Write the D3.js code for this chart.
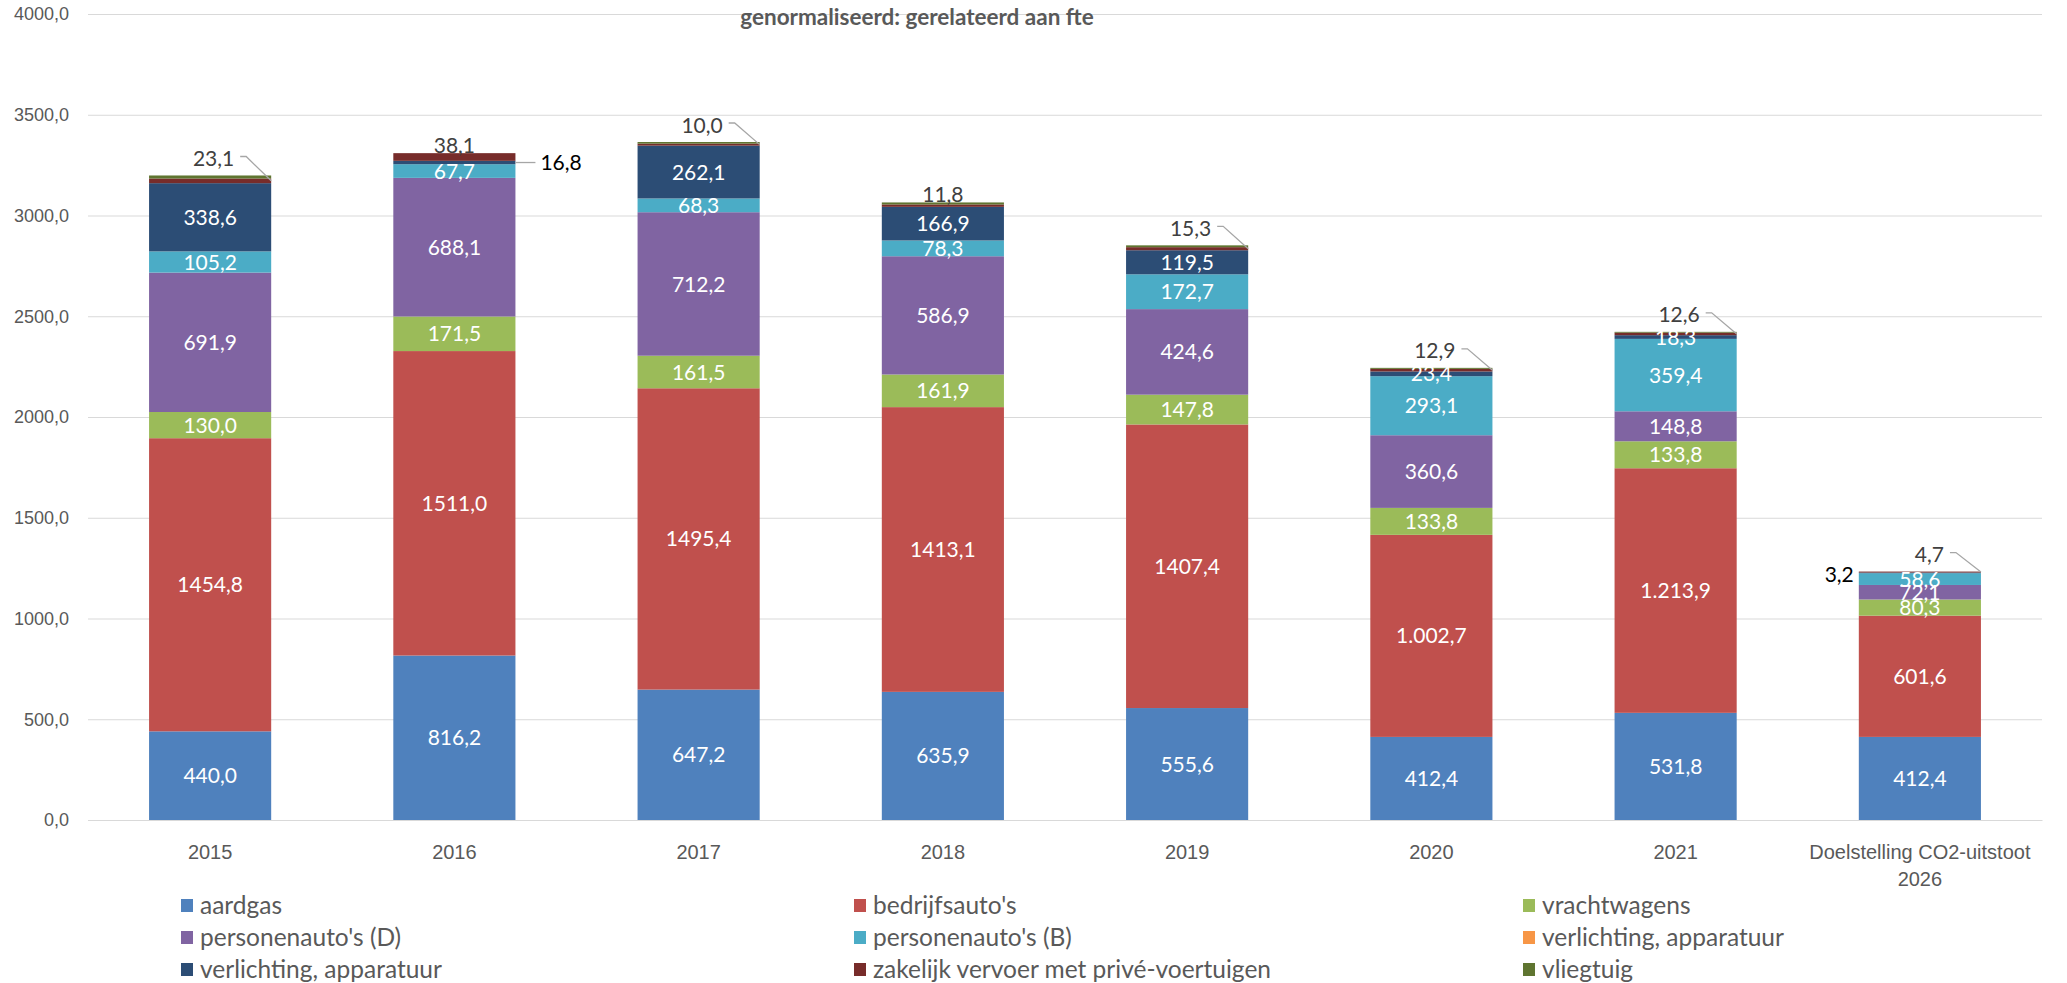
<!DOCTYPE html>
<html lang="nl">
<head>
    <meta charset="UTF-8">
    <title>CO2-uitstoot genormaliseerd</title>
    <style>
        body,html{
            margin:0;
            padding:0;
            border:0;
            background:#fff;
            font-family:Lato, "Open Sans", sans-serif;
        }
        .grid line{ stroke:#d9d9d9; }
        .grid path{ display:none; }
        .tick text{ fill:#595959; }
    </style>
</head>
<body>
    <svg id="svg" width="2067" height="983"></svg>
    <script src="https://cdn.jsdelivr.net/npm/d3@7"></script>
    <script>
        // categorieen en waarden
        var categories = ["2015","2016","2017","2018","2019","2020","2021","Doelstelling CO2-uitstoot 2026"];
        var aardgas         = [440.0, 816.2, 647.2, 635.9, 555.6, 412.4, 531.8, 412.4];
        var bedrijfsautos   = [1454.8, 1511.0, 1495.4, 1413.1, 1407.4, 1002.7, 1213.9, 601.6];
        var vrachtwagens    = [130.0, 171.5, 161.5, 161.9, 147.8, 133.8, 133.8, 80.3];
        var personenautosD  = [691.9, 688.1, 712.2, 586.9, 424.6, 360.6, 148.8, 72.1];
        var personenautosB  = [105.2, 67.7, 68.3, 78.3, 172.7, 293.1, 359.4, 58.6];
        var verlichtingOranje = [0, 0, 0, 0, 0, 0, 0, 0];
        var verlichting     = [338.6, 16.8, 262.1, 166.9, 119.5, 23.4, 18.3, 3.2];
        var zakelijk        = [23.1, 38.1, 10.0, 11.8, 15.3, 12.9, 12.6, 4.7];
        var vliegtuig       = [15, 0, 8, 10, 9, 5, 4, 0];
        var yTicks = [0, 500, 1000, 1500, 2000, 2500, 3000, 3500, 4000];
        var groupedCats = ["2020", "2021"]; // labels met duizendtalscheiding

        var series = [
            {key:"aardgas", name:"aardgas", values:aardgas, color:"#4f81bd", label:"in"},
            {key:"bedrijf", name:"bedrijfsauto's", values:bedrijfsautos, color:"#c0504d", label:"in"},
            {key:"vracht", name:"vrachtwagens", values:vrachtwagens, color:"#9bbb59", label:"in"},
            {key:"persD", name:"personenauto's (D)", values:personenautosD, color:"#8064a2", label:"in"},
            {key:"persB", name:"personenauto's (B)", values:personenautosB, color:"#4bacc6", label:"in"},
            {key:"verlO", name:"verlichting, apparatuur", values:verlichtingOranje, color:"#f79646", label:"none"},
            {key:"verl", name:"verlichting, apparatuur", values:verlichting, color:"#2c4d75", label:"in"},
            {key:"zak", name:"zakelijk vervoer met privé-voertuigen", values:zakelijk, color:"#772c2a", label:"in"},
            {key:"vlieg", name:"vliegtuig", values:vliegtuig, color:"#5f7530", label:"none"}
        ];

        // labels die buiten de staaf staan
        var outside = [
            {cat:"2015", key:"zak", pos:"leader"},
            {cat:"2016", key:"zak", pos:"above"},
            {cat:"2016", key:"verl", pos:"right"},
            {cat:"2017", key:"zak", pos:"leader"},
            {cat:"2018", key:"zak", pos:"above"},
            {cat:"2019", key:"zak", pos:"leader"},
            {cat:"2020", key:"zak", pos:"leader"},
            {cat:"2021", key:"zak", pos:"leader"},
            {cat:"Doelstelling CO2-uitstoot 2026", key:"zak", pos:"leader"},
            {cat:"Doelstelling CO2-uitstoot 2026", key:"verl", pos:"left"}
        ];

        var nl = d3.formatLocale({decimal:",", thousands:".", grouping:[3], currency:["€",""]});
        var fmtPlain = nl.format(".1f");
        var fmtGroup = nl.format(",.1f");

        var rows = categories.map(function(c, i){
            var r = {cat:c};
            series.forEach(function(s){ r[s.key] = s.values[i]; });
            return r;
        });

        var stacked = d3.stack().keys(series.map(function(s){ return s.key; }))(rows);

        var svg = d3.select("#svg");
        var plotL = 88, plotR = 2042, plotT = 14, plotB = 820;

        var x = d3.scaleBand().domain(categories).range([plotL, plotR])
            .paddingInner(0.5).paddingOuter(0.25);
        var y = d3.scaleLinear().domain([0, 4000]).range([plotB, plotT]);

        // rasterlijnen + y-as
        svg.append("g")
            .attr("class", "grid")
            .attr("transform", "translate(" + plotL + ",0)")
            .call(d3.axisLeft(y).tickValues(yTicks).tickSize(-(plotR - plotL))
                .tickPadding(19).tickFormat(fmtPlain))
            .selectAll("text")
            .style("font-size", "18px");

        // staven
        var layers = svg.append("g").selectAll("g").data(stacked).enter().append("g")
            .attr("fill", function(d, i){ return series[i].color; });

        layers.selectAll("rect").data(function(d){ return d; }).enter().append("rect")
            .attr("x", function(d){ return x(d.data.cat); })
            .attr("width", x.bandwidth())
            .attr("y", function(d){ return y(d[1]); })
            .attr("height", function(d){ return y(d[0]) - y(d[1]); });

        function fmt(cat, v){
            return groupedCats.indexOf(cat) >= 0 ? fmtGroup(v) : fmtPlain(v);
        }
        function isOutside(cat, key){
            return outside.some(function(o){ return o.cat === cat && o.key === key; });
        }

        // labels in de staven
        var labels = svg.append("g").style("font-size", "21px");
        stacked.forEach(function(layer, i){
            if(series[i].label !== "in") return;
            layer.forEach(function(d){
                var cat = d.data.cat;
                if(isOutside(cat, series[i].key)) return;
                labels.append("text")
                    .attr("x", x(cat) + x.bandwidth() / 2)
                    .attr("y", (y(d[0]) + y(d[1])) / 2)
                    .attr("dy", "0.36em")
                    .attr("text-anchor", "middle")
                    .attr("fill", "#fff")
                    .text(fmt(cat, d[1] - d[0]));
            });
        });

        // labels buiten de staven
        outside.forEach(function(o){
            var si = series.findIndex(function(s){ return s.key === o.key; });
            var ci = categories.indexOf(o.cat);
            var d = stacked[si][ci];
            var total = stacked[stacked.length - 1][ci][1];
            var x0 = x(o.cat), x1 = x0 + x.bandwidth();
            var yTop = y(total);
            var yMid = (y(d[0]) + y(d[1])) / 2;
            var txt = fmt(o.cat, d[1] - d[0]);

            if(o.pos === "leader"){
                var tx = x1 - 37, ty = yTop - 17;
                labels.append("text")
                    .attr("x", tx).attr("y", ty).attr("dy", "0.36em")
                    .attr("text-anchor", "end").attr("fill", "#404040")
                    .text(txt);
                labels.append("path")
                    .attr("d", "M" + (tx + 6) + "," + (ty - 2) + "H" + (tx + 12) + "L" + x1 + "," + yMid)
                    .attr("fill", "none").attr("stroke", "#a6a6a6").attr("stroke-width", 1.3);
            } else if(o.pos === "above"){
                labels.append("text")
                    .attr("x", x0 + x.bandwidth() / 2).attr("y", yTop - 8).attr("dy", "0.36em")
                    .attr("text-anchor", "middle").attr("fill", "#404040")
                    .text(txt);
            } else if(o.pos === "right"){
                labels.append("path")
                    .attr("d", "M" + x1 + "," + yMid + "H" + (x1 + 20))
                    .attr("stroke", "#a6a6a6").attr("stroke-width", 1.3);
                labels.append("text")
                    .attr("x", x1 + 25).attr("y", yMid).attr("dy", "0.36em")
                    .attr("fill", "#000")
                    .text(txt);
            } else if(o.pos === "left"){
                labels.append("text")
                    .attr("x", x0 - 5).attr("y", yMid + 2).attr("dy", "0.36em")
                    .attr("text-anchor", "end").attr("fill", "#000")
                    .text(txt);
            }
        });

        // x-as
        var xAxis = svg.append("g")
            .attr("class", "xaxis")
            .attr("transform", "translate(0," + plotB + ")")
            .call(d3.axisBottom(x).tickSize(0).tickPadding(0).tickFormat(""));
        xAxis.select("path").attr("stroke", "#d9d9d9");
        xAxis.selectAll(".tick").each(function(c){
            var t = d3.select(this).append("text")
                .attr("fill", "#595959")
                .attr("text-anchor", "middle")
                .style("font-size", "20px");
            var cut = c.lastIndexOf(" ");
            var lines = c.length > 6 ? [c.slice(0, cut), c.slice(cut + 1)] : [c];
            lines.forEach(function(l, k){
                t.append("tspan").attr("x", 0).attr("y", 39 + k * 27).text(l);
            });
        });

        // titel (tweede regel)
        svg.append("text")
            .attr("x", 917).attr("y", 25)
            .attr("text-anchor", "middle")
            .attr("fill", "#595959")
            .style("font-size", "22.5px")
            .style("font-weight", "bold")
            .text("genormaliseerd: gerelateerd aan fte");

        // legenda
        var legend = svg.append("g").style("font-size", "24.5px");
        var colX = [181, 854, 1523], rowY = [905, 937, 969];
        series.forEach(function(s, i){
            var g = legend.append("g")
                .attr("transform", "translate(" + colX[i % 3] + "," + rowY[Math.floor(i / 3)] + ")");
            g.append("rect").attr("x", 0).attr("y", -6).attr("width", 12).attr("height", 13).attr("fill", s.color);
            g.append("text").attr("x", 19).attr("dy", "0.36em").attr("fill", "#595959").text(s.name);
        });
    </script>
</body>
</html>
